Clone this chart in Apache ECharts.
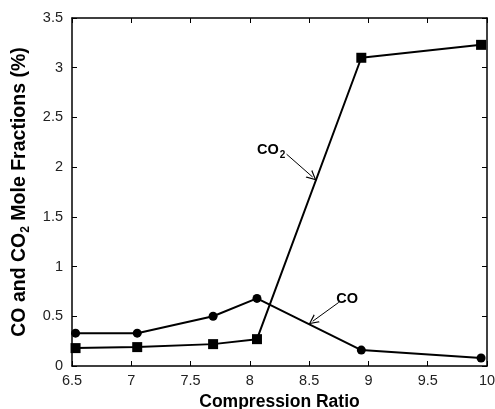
<!DOCTYPE html>
<html>
<head>
<meta charset="utf-8">
<script src="https://cdn.jsdelivr.net/npm/echarts@6/dist/echarts.min.js"></script>
<style>
  html, body { margin: 0; padding: 0; background: #fff; }
  #main { width: 495px; height: 409px; }
</style>
</head>
<body>
<div id="main"></div>
<script>
// compression ratio points
const ratios = [6.53, 7.05, 7.69, 8.06, 8.94, 9.95];
const coValues = [0.33, 0.33, 0.50, 0.68, 0.16, 0.08];
const co2Values = [0.18, 0.19, 0.22, 0.27, 3.10, 3.23];

const pairs = (xs, ys) => xs.map((x, i) => [x, ys[i]]);

const chartDom = document.getElementById("main");
const myChart = echarts.init(chartDom);

const FONT = "Liberation Sans, Arial, sans-serif";
const labelFont = { fontFamily: FONT, fontSize: 14.5, color: "#222" };
const axisLine = { show: true, onZero: false, lineStyle: { color: "#000", width: 1.5 } };
const tick = { show: true, inside: true, length: 5, lineStyle: { color: "#000", width: 1 } };
// open "V" arrow head, tip pointing up
const openArrow = "path://M5,0 L10,11 L8.6,11 L5,2.8 L1.4,11 L0,11 Z";

const option = {
  animation: false,
  grid: { left: 72, right: 8, top: 18, bottom: 43, outerBoundsMode: "none", containLabel: false },
  xAxis: [
    {
      type: "value", min: 6.5, max: 10, interval: 0.5,
      name: "Compression Ratio", nameLocation: "middle", nameGap: 26,
      nameTextStyle: { fontFamily: FONT, fontSize: 17.5, fontWeight: "bold", color: "#000" },
      axisLine: axisLine, axisTick: tick,
      axisLabel: Object.assign({ margin: 7 }, labelFont),
      splitLine: { show: false },
    },
    {
      type: "value", position: "top", min: 6.5, max: 10, interval: 0.5,
      axisLine: axisLine, axisTick: tick, axisLabel: { show: false }, splitLine: { show: false },
    },
  ],
  yAxis: [
    {
      type: "value", min: 0, max: 3.5, interval: 0.5,
      name: "CO and CO{sub|2} Mole Fractions (%)", nameLocation: "middle", nameGap: 35,
      nameTextStyle: {
        fontFamily: FONT, fontSize: 19.5, fontWeight: "bold", color: "#000",
        rich: { sub: { fontFamily: FONT, fontSize: 12, fontWeight: "bold", color: "#000", padding: [12, 0, 0, 0] } },
      },
      axisLine: axisLine, axisTick: tick,
      axisLabel: Object.assign({ margin: 9 }, labelFont),
      splitLine: { show: false },
    },
    {
      type: "value", position: "right", min: 0, max: 3.5, interval: 0.5,
      axisLine: axisLine, axisTick: tick, axisLabel: { show: false }, splitLine: { show: false },
    },
  ],
  series: [
    {
      name: "CO", type: "line",
      data: pairs(ratios, coValues),
      symbol: "circle", symbolSize: 9,
      itemStyle: { color: "#000" }, lineStyle: { color: "#000", width: 2 },
      markPoint: {
        symbol: "circle", symbolSize: 0,
        label: { show: true, formatter: "CO", fontFamily: FONT, fontSize: 14.5, fontWeight: "bold", color: "#000" },
        data: [{ coord: [8.82, 0.67] }],
      },
      markLine: {
        silent: true, symbol: ["none", openArrow], symbolSize: 10,
        label: { show: false },
        lineStyle: { color: "#000", width: 1, type: "solid" },
        data: [[{ coord: [8.75, 0.64] }, { coord: [8.53, 0.45] }]],
      },
    },
    {
      name: "CO2", type: "line",
      data: pairs(ratios, co2Values),
      symbol: "rect", symbolSize: 10,
      itemStyle: { color: "#000" }, lineStyle: { color: "#000", width: 2 },
      markPoint: {
        symbol: "circle", symbolSize: 0,
        label: {
          show: true, formatter: "CO{sub|2}",
          fontFamily: FONT, fontSize: 14.5, fontWeight: "bold", color: "#000",
          rich: { sub: { fontFamily: FONT, fontSize: 10, fontWeight: "bold", color: "#000", padding: [10, 0, 0, 1] } },
        },
        data: [{ coord: [8.18, 2.17] }],
      },
      markLine: {
        silent: true, symbol: ["none", openArrow], symbolSize: 10,
        label: { show: false },
        lineStyle: { color: "#000", width: 1, type: "solid" },
        data: [[{ coord: [8.31, 2.13] }, { coord: [8.53, 1.90] }]],
      },
    },
  ],
};

option && myChart.setOption(option);
</script>
</body>
</html>
